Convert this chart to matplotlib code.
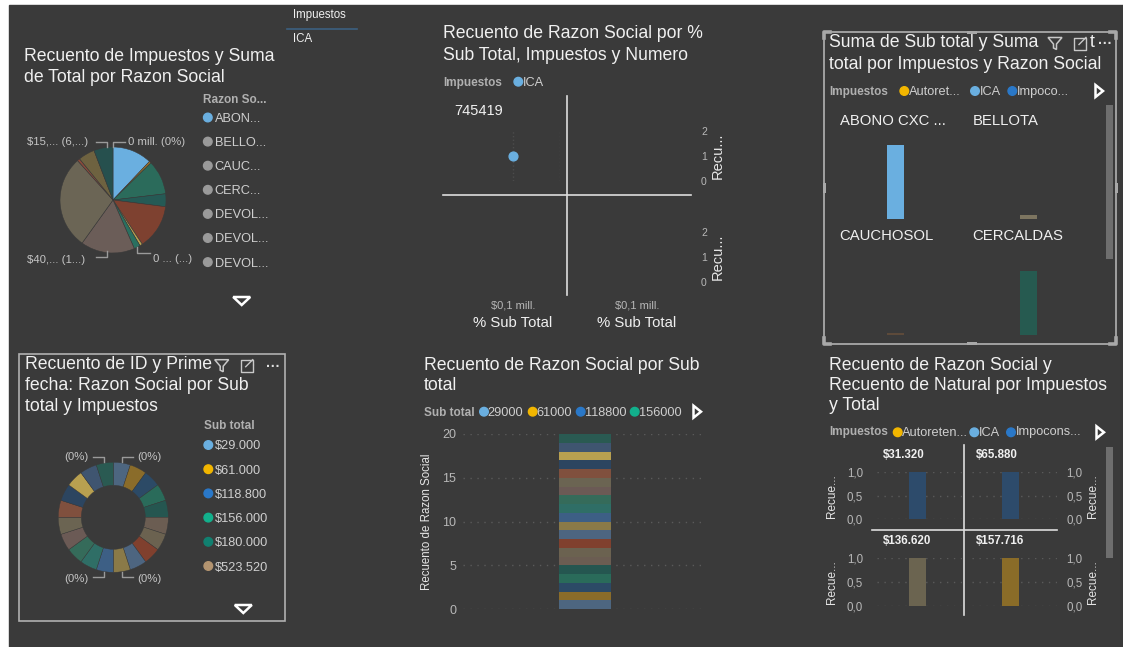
import matplotlib.pyplot as plt
from matplotlib.patches import Rectangle, Polygon, Ellipse
from matplotlib.lines import Line2D

W, H = 1123, 647
BG = '#3a3a3a'
TITLE_C = '#f0f0f0'
LEG_HEAD = '#b0b0b0'
LEG_TXT = '#cfcfcf'
TICK_C = '#b8b8b8'

# Recuento de Impuestos y Suma de Total por Razon Social
razon_legend = ['ABON...', 'BELLO...', 'CAUC...', 'CERC...', 'DEVOL...', 'DEVOL...', 'DEVOL...']
razon_legend_colors = ['#6aafe0', '#9a9a9a', '#9a9a9a', '#9a9a9a', '#9a9a9a', '#9a9a9a', '#9a9a9a']
total_share = [12.0, 0.6, 10.4, 3.9, 13.6, 0.8, 1.9, 16.4, 28.3, 0.8, 5.0, 5.8]
total_colors = ['#6aafe0', '#a8782a', '#2b6b5b', '#255a55', '#7e4130', '#b8a050',
                '#2a7060', '#6b5d58', '#6b6555', '#8a4a3a', '#6e6240', '#26504e']

# Recuento de Razon Social por % Sub Total, Impuestos y Numero
pct_sub_total = [0.1]   # mill.
recuento_razon = [1]
numero = '745419'

# Suma de Sub total ... por Impuestos y Razon Social
razon_multiples = ['ABONO CXC ...', 'BELLOTA', 'CAUCHOSOL', 'CERCALDAS']
suma_sub_total = [745000, 45000, 15000, 640000]
razon_colors = ['#6aafe0', '#7d7560', '#5d4a3a', '#265a50']

# Sub total segments (donut + stacked column)
sub_total_legend = ['$29.000', '$61.000', '$118.800', '$156.000', '$180.000', '$523.520']
sub_total_colors = ['#6aafe0', '#f2b600', '#2a78c8', '#12b08c', '#118070', '#b39470']
sub_total_short = ['29000', '61000', '118800', '156000']
segment_counts = [1, 1, 1, 1, 1, 1, 1, 1, 1, 1, 1, 1, 1, 1, 1, 1, 1, 1, 1, 1]
segment_colors = ['#4d6680', '#8a6c2a', '#2c4a66', '#2a6b5a', '#255650', '#6b5d52', '#6b6250',
                  '#80402e', '#4d6580', '#8a7a48', '#3d5f85', '#2f6e66', '#356b5a', '#6b5a55',
                  '#6b6452', '#80503e', '#2c4560', '#b8a050', '#3f5570', '#2a5a52']

# Recuento de Razon Social y Recuento de Natural por Impuestos y Total
total_titles = ['$31.320', '$65.880', '$136.620', '$157.716']
recuento_natural = [1, 1, 1, 1]
total_bar_colors = ['#2d4b6b', '#2d4b6b', '#6b6450', '#8a6c28']
impuestos_colors = ['#f2b600', '#6aafe0', '#2a78c8']

plt.rcParams['font.family'] = ['Liberation Sans', 'DejaVu Sans']

fig = plt.figure(figsize=(W / 100, H / 100), dpi=100, facecolor='white')
fig.add_artist(Rectangle((9 / W, 0), 1 - 9 / W, 1 - 5 / H, transform=fig.transFigure,
                         color=BG, zorder=-10))


def box(x0, y0, x1, y1):
    ax = fig.add_axes([x0 / W, 1 - y1 / H, (x1 - x0) / W, (y1 - y0) / H])
    ax.set_facecolor('none')
    for s in ax.spines.values():
        s.set_visible(False)
    ax.tick_params(length=0, colors=TICK_C, labelsize=8)
    return ax


def txt(x, y, s, size=9, color=TITLE_C, **kw):
    kw.setdefault('va', 'baseline')
    fig.text(x / W, 1 - y / H, s, fontsize=size, color=color, **kw)


def line(xs, ys, color='#9a9a9a', lw=1.0):
    fig.add_artist(Line2D([x / W for x in xs], [1 - y / H for y in ys],
                          color=color, lw=lw, transform=fig.transFigure))


def dot(x, y, c, r=4.3):
    fig.add_artist(Ellipse((x / W, 1 - y / H), 2 * r / W, 2 * r / H, color=c,
                           transform=fig.transFigure))


def poly(pts, ec='white', lw=1.8, fc='none'):
    fig.add_artist(Polygon([(x / W, 1 - y / H) for x, y in pts], closed=True, fc=fc,
                           ec=ec, lw=lw, transform=fig.transFigure))


def rect(x0, y0, x1, y1, ec='#a8a8a8', lw=1.2, fc='none'):
    fig.add_artist(Rectangle((x0 / W, 1 - y1 / H), (x1 - x0) / W, (y1 - y0) / H,
                             fc=fc, ec=ec, lw=lw, transform=fig.transFigure))


def arrow_right(x, y):
    poly([(x - 3.5, y - 6), (x - 3.5, y + 6), (x + 4, y)])


def arrow_down(x, y):
    poly([(x - 8.5, y - 4), (x + 8.5, y - 4), (x, y + 4)])


def icons(fx, ex, mx, y):
    poly([(fx - 7, y - 6), (fx + 7, y - 6), (fx + 1.5, y + 0.5), (fx + 1.5, y + 6),
          (fx - 1.5, y + 4.5), (fx - 1.5, y + 0.5)], ec='#c8c8c8', lw=1.1)
    line([ex + 1, ex - 6, ex - 6, ex + 6, ex + 6], [y - 6, y - 6, y + 6, y + 6, y - 1],
         color='#c8c8c8', lw=1.0)
    line([ex - 1, ex + 6], [y + 1, y - 6], color='#c8c8c8', lw=1.0)
    line([ex + 2, ex + 6, ex + 6], [y - 6, y - 6, y - 2], color='#c8c8c8', lw=1.0)
    txt(mx, y + 1, '···', size=10, color='#e0e0e0', ha='center', va='center', weight='bold')


# ---------------- slicer
txt(292.7, 18.3, 'Impuestos', size=8.3)
line([287.3, 356.7], [29.3, 29.3], color='#3c6080', lw=1.2)
txt(292.7, 41.7, 'ICA', size=8.3)

# ---------------- pie
txt(24, 61, 'Recuento de Impuestos y Suma', size=12.7)
txt(24, 81.5, 'de Total por Razon Social', size=12.7)
txt(203, 103, 'Razon So...', size=8.5, color=LEG_HEAD, weight='bold')
for i, (name, c) in enumerate(zip(razon_legend, razon_legend_colors)):
    yc = 117.5 + i * 24.1
    dot(207.8, yc, c)
    txt(214.8, yc + 4.5, name, size=9.2, color=LEG_TXT)
arrow_down(241.7, 301)

ax = box(53, 140, 173, 260)
ax.pie(total_share, colors=total_colors, startangle=90, counterclock=False, radius=53,
       wedgeprops=dict(edgecolor='#3a3a3a', linewidth=0.4))
ax.set_xlim(-60, 60)
ax.set_ylim(-60, 60)
LBL = '#c4c4c4'
txt(27, 145, '$15,... (6,...)', size=8.2, color=LBL)
line([96, 107, 107], [141.7, 141.7, 147])
line([113, 113, 125], [147, 141.7, 141.7])
txt(128, 145, '0 mill. (0%)', size=8.2, color=LBL)
txt(27, 262.7, '$40,... (1...)', size=8.2, color=LBL)
line([96, 107, 107], [257, 257, 251])
line([137, 137, 150], [247, 253, 253])
txt(153, 262, '0 ... (...)', size=8.2, color=LBL)

# ---------------- scatter small multiples
txt(443, 38.3, 'Recuento de Razon Social por %', size=12.7)
txt(443, 60, 'Sub Total, Impuestos y Numero', size=12.7)
txt(443, 86, 'Impuestos', size=8.5, color=LEG_HEAD, weight='bold')
dot(518.3, 81.7, '#6aafe0')
txt(523, 86, 'ICA', size=9.2, color=LEG_TXT)
txt(454.3, 115, numero, size=10.5)

ax = box(466, 130.7, 560, 180.7)
ax.scatter(pct_sub_total, recuento_razon, s=40, color='#6aafe0', zorder=3, clip_on=False)
ax.set_xlim(0, 0.2)
ax.set_ylim(0, 2)
ax.set_xticks([0.1, 0.2])
ax.set_yticks([])
ax.set_xticklabels([])
ax.grid(axis='x', color='#4c4c4c', linestyle=':', lw=1)
for y0, y1 in [(130.7, 180.7), (231.7, 281.7)]:
    axr = box(590, y0, 690, y1)
    axr.set_ylim(0, 2)
    axr.set_xticks([])
    axr.set_yticks([0, 1, 2])
    axr.yaxis.tick_right()
    axr.tick_params(labelsize=7.5, pad=8)
    txt(718, (y0 + y1) / 2, 'Recu...', size=10.5, color='#e6e6e6', rotation=90,
        ha='center', va='center')
line([566.7, 566.7], [95.7, 295], color='#dddddd', lw=1.2)
line([442.7, 691], [195, 195], color='#dddddd', lw=1.2)
for xc in [512.7, 636.7]:
    txt(xc, 308.3, '$0,1 mill.', size=8, color=TICK_C, ha='center')
    txt(xc, 326.7, '% Sub Total', size=10.7, ha='center')

# ---------------- bar small multiples (top right)
rect(824, 32.3, 1116, 344, ec='#a8a8a8', lw=1.3)
for hx, hy, hw, hh in [(967, 30.8, 10, 3), (967, 342.5, 10, 3), (822.5, 183, 3, 10),
                       (1114.5, 183, 3, 10)]:
    rect(hx, hy, hx + hw, hy + hh, ec='none', fc='#a8a8a8')
for cx, cy, sx, sy in [(824, 32.3, 1, 1), (1116, 32.3, -1, 1), (824, 344, 1, -1),
                       (1116, 344, -1, -1)]:
    line([cx, cx, cx + 6 * sx], [cy + 6 * sy, cy, cy], color='#a8a8a8', lw=2.6)
txt(829, 47.3, 'Suma de Sub total y Suma', size=12.7)
txt(829, 69, 'total por Impuestos y Razon Social', size=12.7)
icons(1055, 1080, 1105, 43.5)
txt(1090, 47.3, 't', size=12.7)
txt(829, 95, 'Impuestos', size=8.5, color=LEG_HEAD, weight='bold')
for xd, name, c in zip([904.3, 975, 1012.3], ['Autoret...', 'ICA', 'Impoco...'],
                       impuestos_colors):
    dot(xd, 91, c)
    txt(xd + 4.5, 95, name, size=9.2, color=LEG_TXT)
arrow_right(1099, 91)
cells = [(829, 962, 130, 219), (962, 1095, 130, 219), (829, 962, 245, 334.5),
         (962, 1095, 245, 334.5)]
for (x0, x1, y0, y1), name, v, c in zip(cells, razon_multiples, suma_sub_total, razon_colors):
    ax = box(x0, y0, x1, y1)
    ax.bar([0.5], [v], width=0.128, color=c)
    ax.set_xlim(0, 1)
    ax.set_ylim(0, 900000)
    ax.set_xticks([])
    ax.set_yticks([])
    txt(x0 + 10.5, y0 - 5, name, size=10.7, color='#f0f0f0')
rect(1106, 105, 1113.3, 259.3, ec='none', fc='#6e6e6e')

# ---------------- donut
rect(19.3, 354, 285.3, 621, ec='#b0b0b0', lw=1.2)
txt(25, 369, 'Recuento de ID y Prime', size=12.7)
icons(221.7, 246.7, 273.3, 365.7)
txt(25, 390, 'fecha: Razon Social por Sub', size=12.7)
txt(25, 411, 'total y Impuestos', size=12.7)
txt(204.3, 429, 'Sub total', size=8.5, color=LEG_HEAD, weight='bold')
for i, (name, c) in enumerate(zip(sub_total_legend, sub_total_colors)):
    yc = 445 + i * 24.2
    dot(208.3, yc, c)
    txt(215, yc + 4.5, name, size=9.2, color=LEG_TXT)
arrow_down(243.3, 609)

ax = box(53.3, 457.3, 173.3, 577.3)
ax.pie(segment_counts, colors=segment_colors, startangle=90, counterclock=False, radius=55,
       wedgeprops=dict(width=23, edgecolor='#3a3a3a', linewidth=0.3))
ax.set_xlim(-60, 60)
ax.set_ylim(-60, 60)
for yb in [460, 581.7]:
    txt(64.3, yb, '(0%)', size=8.2, color=LBL)
    txt(137.7, yb, '(0%)', size=8.2, color=LBL)
line([92.7, 104, 104], [456.7, 456.7, 461.7])
line([121.7, 121.7, 133.3], [461.7, 456.7, 456.7])
line([92.7, 104, 104], [577.3, 577.3, 572.3])
line([121.7, 121.7, 133.3], [571.7, 577.3, 577.3])

# ---------------- stacked column
txt(424, 370, 'Recuento de Razon Social por Sub', size=12.7)
txt(424, 390, 'total', size=12.7)
txt(424, 415.7, 'Sub total', size=8.5, color=LEG_HEAD, weight='bold')
for xd, name, c in zip([484, 532.7, 580.7, 634.7], sub_total_short, sub_total_colors):
    dot(xd, 411.7, c)
    txt(xd + 3.8, 415.7, name, size=9.2, color=LEG_TXT)
arrow_right(697, 411.7)

ax = box(463, 434, 705, 609)
bottom = 0
for v, c in zip(segment_counts, segment_colors):
    ax.bar([0.505], [v], bottom=bottom, width=0.2136, color=c, zorder=3)
    bottom += v
ax.set_xlim(0, 1)
ax.set_ylim(0, 20)
ax.set_xticks([])
ax.set_yticks([0, 5, 10, 15, 20])
ax.tick_params(labelsize=9, pad=5)
ax.grid(axis='y', color='#5a5a5a', linestyle=(0, (1, 4)), lw=1)
txt(427.3, 521.7, 'Recuento de Razon Social', size=8.3, color='#e6e6e6', rotation=90,
    ha='center', va='center')

# ---------------- bar small multiples (bottom right)
txt(829, 370, 'Recuento de Razon Social y', size=12.7)
txt(829, 390, 'Recuento de Natural por Impuestos', size=12.7)
txt(829, 410, 'y Total', size=12.7)
txt(829, 435, 'Impuestos', size=8.5, color=LEG_HEAD, weight='bold')
for xd, name, c in zip([897.7, 974.3, 1011], ['Autoreten...', 'ICA', 'Impocons...'],
                       impuestos_colors):
    dot(xd, 432.3, c)
    txt(xd + 4.5, 435.5, name, size=9.2, color=LEG_TXT)
arrow_right(1100, 432.3)

cells = [(876.7, 961.7, 472.3, 519, 0.482, 'left'), (971.7, 1056.7, 472.3, 519, 0.46, 'right'),
         (876.7, 961.7, 557.7, 606, 0.482, 'left'), (971.7, 1056.7, 557.7, 606, 0.46, 'right')]
title_x = [903.7, 997, 907, 1000.3]
for (x0, x1, y0, y1, bx, side), t, v, c, tx in zip(cells, total_titles, recuento_natural,
                                                    total_bar_colors, title_x):
    ax = box(x0, y0, x1, y1)
    ax.bar([bx], [v], width=0.196, color=c, zorder=3)
    ax.set_xlim(0, 1)
    ax.set_ylim(0, 1)
    ax.set_xticks([])
    ax.set_yticks([0, 0.5, 1])
    ax.set_yticklabels(['0,0', '0,5', '1,0'])
    ax.grid(axis='y', color='#5a5a5a', linestyle=(0, (1, 4)), lw=1)
    if side == 'left':
        ax.tick_params(labelsize=8.3, pad=10)
        lx = 832.3
    else:
        ax.yaxis.tick_right()
        ax.tick_params(labelsize=8.3, pad=7)
        lx = 1093.3
    txt(lx, (y0 + y1) / 2, 'Recue...', size=8.5, color='#e6e6e6', rotation=90,
        ha='center', va='center')
    txt(tx, y0 - 14, t, size=8.3, weight='bold', ha='center')
line([964.3, 964.3], [445, 615], color='#dddddd', lw=1.2)
line([871.7, 1056.7], [530, 530], color='#dddddd', lw=1.2)
rect(1106, 446.7, 1113.3, 558.3, ec='none', fc='#6e6e6e')

fig.savefig('out.png', dpi=100, facecolor='white')
